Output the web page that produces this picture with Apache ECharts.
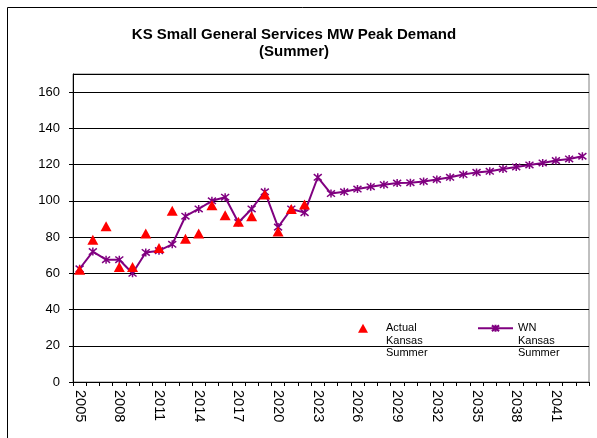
<!DOCTYPE html>
<html>
<head>
<meta charset="utf-8">
<script src="https://cdn.jsdelivr.net/npm/echarts@6/dist/echarts.min.js"></script>
<style>
  html, body { margin: 0; padding: 0; background: #fff; }
  #chart { width: 597px; height: 438px; }
</style>
</head>
<body>
<div id="chart"></div>
<script>
const years = [];
for (let y = 2005; y <= 2043; y++) years.push(String(y));

// actual summer peaks 2005-2022
const actualKansas = [62, 78.5, 86, 63.5, 63.5, 82, 74, 94.5, 79, 82, 97.5, 92, 88.5, 91.5, 103.5, 83, 95.5, 98];
// weather normalized 2005-2043
const wnKansas = [62.5, 72, 67.5, 67.5, 60, 71.5, 72.5, 76, 91.5, 95.5, 100, 102, 88, 95.5, 105, 85.5, 95.5, 93.5, 113, 104,
  105, 106.5, 107.8, 108.9, 109.8, 110, 110.7, 111.8, 113, 114.5, 115.7, 116.3, 117.6, 118.7, 119.8, 120.9, 122.2, 123.1, 124.6];

const font = "'Liberation Sans', Arial, sans-serif";
const starPath = "path://M1,1L9,9M9,1L1,9M5,0L5,10";
// push the 3-line legend text down so its first line sits next to the icon
const legendText = (name) => "\n\n" + name;

const chart = echarts.init(document.getElementById("chart"));
chart.setOption({
  animation: false,
  backgroundColor: "#fff",
  textStyle: { fontFamily: font },
  title: {
    text: "KS Small General Services MW Peak Demand\n(Summer)",
    left: 289,
    top: 21,
    textAlign: "center",
    textStyle: { fontSize: 15, fontWeight: "bold", color: "#000", lineHeight: 17, fontFamily: font },
  },
  graphic: [
    {
      type: "rect",
      shape: { x: 7.5, y: 7.5, width: 620, height: 460 },
      style: { fill: "none", stroke: "#000", lineWidth: 1 },
      silent: true,
    },
  ],
  legend: [
    {
      data: [{ name: "Actual\nKansas\nSummer", icon: "triangle" }],
      formatter: legendText,
      left: 358,
      top: 297,
      padding: 0,
      itemWidth: 10,
      itemHeight: 9,
      selectedMode: false,
      textStyle: { fontSize: 11, color: "#000", lineHeight: 12.5, padding: [0, 0, 0, 13], fontFamily: font },
    },
    {
      data: ["WN\nKansas\nSummer"],
      formatter: legendText,
      left: 477,
      top: 297,
      padding: 0,
      itemWidth: 35,
      itemHeight: 9,
      selectedMode: false,
      textStyle: { fontSize: 11, color: "#000", lineHeight: 12.5, fontFamily: font },
    },
  ],
  grid: { left: 73, right: 8, top: 74, bottom: 56, show: true, borderColor: "#808080", borderWidth: 1 },
  xAxis: {
    type: "category",
    data: years,
    boundaryGap: true,
    axisLine: { lineStyle: { color: "#000", width: 1 } },
    axisTick: { show: true, interval: 0, length: 4, lineStyle: { color: "#000" } },
    axisLabel: { interval: 2, rotate: -90, fontSize: 14.5, color: "#000", margin: 8, fontFamily: font },
    splitLine: { show: false },
  },
  yAxis: {
    type: "value",
    min: 0,
    max: 170,
    interval: 20,
    axisLine: { show: true, lineStyle: { color: "#000", width: 1 } },
    axisTick: { show: true, length: 4, lineStyle: { color: "#000" } },
    axisLabel: { fontSize: 13, color: "#000", margin: 13, showMaxLabel: false, fontFamily: font },
    splitLine: { show: true, lineStyle: { color: "#000", width: 1 } },
  },
  series: [
    {
      name: "Actual\nKansas\nSummer",
      type: "scatter",
      data: actualKansas,
      symbol: "triangle",
      symbolSize: [11, 10],
      itemStyle: { color: "#ff0000", opacity: 1 },
      z: 3,
    },
    {
      name: "WN\nKansas\nSummer",
      type: "line",
      data: wnKansas,
      symbol: starPath,
      symbolSize: 8,
      showSymbol: true,
      lineStyle: { color: "#800080", width: 2 },
      itemStyle: { color: "#800080", borderColor: "#800080", borderWidth: 1.5 },
      z: 2,
    },
  ],
});
</script>
</body>
</html>
